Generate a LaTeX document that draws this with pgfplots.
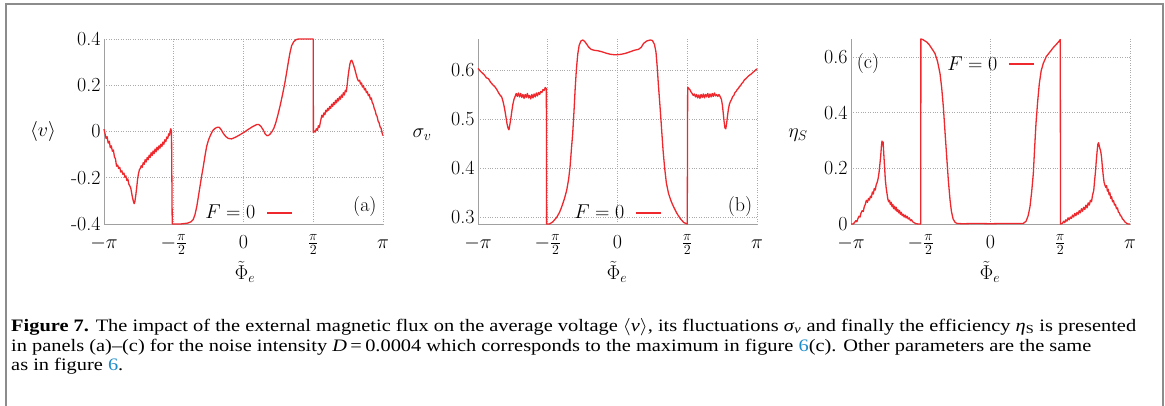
\RequirePackage{fix-cm}
\documentclass[border=0pt]{standalone}
\usepackage{fontspec}
\usepackage{pgfplots}
\pgfplotsset{compat=1.18}
\newfontfamily\capfont{Liberation Serif}
\definecolor{cred}{RGB}{238,40,45}
\definecolor{axgray}{RGB}{160,160,160}
\definecolor{gridgray}{RGB}{170,170,170}
\definecolor{boxgray}{RGB}{140,140,140}
\definecolor{linkblue}{RGB}{30,140,200}
\newlength\capw
\newcommand\capsize{\capfont\fontsize{17.5}{21}\selectfont}
\newcommand\capA{\textbf{Figure 7.} The impact of the external magnetic flux on the average voltage $\langle$\textit{v}$\rangle$, its fluctuations \textit{σ}\textsubscript{\textit{v}} and finally the efficiency \textit{η}\textsubscript{S} is presented}
\newcommand\capB{in panels (a)–(c) for the noise intensity \textit{D}\,=\,0.0004 which corresponds to the maximum in figure \textcolor{linkblue}{6}(c). Other parameters are the same}
\newcommand\capC{as in figure \textcolor{linkblue}{6}.}
\newcommand\lbl{\fontsize{20}{24}\selectfont}

\pgfplotsset{
 redline/.style={cred, line width=1.3pt, mark=none, line join=round},
 panel/.style={
  scale only axis, width=279pt, height=185pt,
  xmin=-1, xmax=1,
  axis x line*=bottom, axis y line*=left,
  axis line style={axgray, line width=1pt},
  xtick={-1,-0.5,0,0.5,1},
  xticklabels={$-\pi$,$-\frac{\pi}{2}$,$0$,$\frac{\pi}{2}$,$\pi$},
  major tick length=0pt,
  grid=major, grid style={gridgray, dotted, line width=0.8pt},
  tick label style={font=\lbl},
  xticklabel style={anchor=base, inner sep=0pt, yshift=-24pt},
  legend style={draw=none, fill=none, font=\lbl, inner sep=1pt, column sep=9pt},
  legend plot pos=right,
  legend image code/.code={\draw[##1] (0pt,0pt) -- (25pt,0pt);},
  clip=false,
}}

\begin{document}
\settowidth\capw{\capsize\capA}%
\pgfmathsetmacro\sx{1125/\capw}%
\begin{tikzpicture}
\fill[white] (0,0) rectangle (1165pt,405pt);
\useasboundingbox (0,0) rectangle (1165pt,405pt);
\draw[boxgray, line width=2pt] (6pt,-5pt) -- (6pt,401pt) -- (1163pt,401pt) -- (1163pt,-5pt);

% ---------------- panel (a)
\begin{axis}[panel, at={(104pt,181pt)}, anchor=south west,
  ymin=-0.4, ymax=0.4, ytick={-0.4,-0.2,0,0.2,0.4},
  yticklabels={-0.4,-0.2,0,0.2,0.4},
  legend style={at={(0.516,0.06)}, anchor=center}]
\addplot[redline] coordinates {
(-1.000,0.010) (-0.992,-0.012) (-0.985,-0.030) (-0.978,-0.022) (-0.970,-0.050) (-0.962,-0.042)
(-0.955,-0.070) (-0.948,-0.062) (-0.940,-0.085) (-0.933,-0.080) (-0.925,-0.110) (-0.918,-0.118)
(-0.910,-0.150) (-0.902,-0.145) (-0.895,-0.160) (-0.887,-0.155) (-0.880,-0.175) (-0.872,-0.170)
(-0.865,-0.185) (-0.857,-0.180) (-0.850,-0.198) (-0.843,-0.192) (-0.836,-0.212) (-0.829,-0.205)
(-0.822,-0.228) (-0.815,-0.235) (-0.808,-0.245) (-0.802,-0.265) (-0.796,-0.285) (-0.790,-0.300)
(-0.784,-0.312) (-0.779,-0.305) (-0.772,-0.275) (-0.766,-0.245) (-0.759,-0.205) (-0.752,-0.180)
(-0.746,-0.165) (-0.740,-0.160) (-0.733,-0.148) (-0.726,-0.155) (-0.719,-0.135) (-0.712,-0.142)
(-0.705,-0.122) (-0.698,-0.132) (-0.690,-0.112) (-0.683,-0.122) (-0.676,-0.102) (-0.669,-0.112)
(-0.662,-0.092) (-0.655,-0.104) (-0.648,-0.084) (-0.641,-0.096) (-0.634,-0.076) (-0.627,-0.088)
(-0.620,-0.068) (-0.613,-0.080) (-0.606,-0.062) (-0.599,-0.072) (-0.592,-0.055) (-0.585,-0.065)
(-0.578,-0.046) (-0.571,-0.055) (-0.564,-0.036) (-0.557,-0.044) (-0.550,-0.024) (-0.543,-0.030)
(-0.536,-0.010) (-0.530,-0.016) (-0.525,0.004) (-0.521,0.012) (-0.516,0.000) (-0.511,-0.400)
(-0.450,-0.400) (-0.399,-0.396) (-0.375,-0.390) (-0.360,-0.380) (-0.348,-0.360) (-0.335,-0.325)
(-0.323,-0.280) (-0.312,-0.238) (-0.300,-0.192) (-0.288,-0.151) (-0.276,-0.105) (-0.264,-0.064)
(-0.250,-0.035) (-0.236,-0.015) (-0.220,0.004) (-0.205,0.013) (-0.190,0.018) (-0.173,0.018)
(-0.158,0.006) (-0.145,-0.008) (-0.127,-0.022) (-0.109,-0.030) (-0.085,-0.032) (-0.055,-0.024)
(-0.025,-0.014) (0.005,-0.003) (0.034,0.009) (0.065,0.021) (0.095,0.030) (0.110,0.030)
(0.125,0.022) (0.142,0.006) (0.155,-0.010) (0.168,-0.018) (0.180,-0.017) (0.192,-0.010)
(0.205,0.000) (0.218,0.015) (0.230,0.035) (0.245,0.068) (0.262,0.110) (0.280,0.160)
(0.297,0.212) (0.310,0.258) (0.321,0.299) (0.333,0.340) (0.345,0.371) (0.360,0.388)
(0.376,0.397) (0.395,0.400) (0.450,0.400) (0.500,0.400) (0.501,-0.005) (0.508,0.002)
(0.515,-0.002) (0.522,0.012) (0.530,0.005) (0.537,0.025) (0.544,0.018) (0.551,0.040)
(0.556,0.055) (0.562,0.070) (0.569,0.062) (0.576,0.080) (0.583,0.072) (0.590,0.092)
(0.597,0.085) (0.604,0.100) (0.611,0.092) (0.618,0.108) (0.625,0.100) (0.632,0.118)
(0.639,0.108) (0.646,0.125) (0.653,0.116) (0.660,0.135) (0.667,0.124) (0.674,0.142)
(0.681,0.132) (0.688,0.150) (0.695,0.140) (0.702,0.158) (0.709,0.148) (0.716,0.168)
(0.723,0.158) (0.730,0.178) (0.737,0.172) (0.743,0.200) (0.749,0.235) (0.755,0.262)
(0.762,0.290) (0.769,0.305) (0.776,0.308) (0.783,0.298) (0.790,0.285) (0.797,0.272)
(0.804,0.255) (0.811,0.240) (0.818,0.225) (0.825,0.218) (0.832,0.222) (0.839,0.205)
(0.846,0.210) (0.853,0.192) (0.860,0.198) (0.867,0.180) (0.874,0.186) (0.881,0.168)
(0.888,0.172) (0.895,0.155) (0.902,0.160) (0.909,0.140) (0.916,0.145) (0.923,0.125)
(0.930,0.118) (0.937,0.100) (0.944,0.090) (0.951,0.072) (0.958,0.065) (0.965,0.045)
(0.972,0.038) (0.979,0.020) (0.986,0.015) (0.993,-0.005) (1.000,-0.018)
};
\addlegendentry{$F=0$}
\node[font=\lbl] at (rel axis cs:0.935,0.092) {(a)};
\end{axis}

% ---------------- panel (b)
\begin{axis}[panel, at={(478pt,181pt)}, anchor=south west,
  ymin=0.286, ymax=0.663, ytick={0.3,0.4,0.5,0.6},
  yticklabels={0.3,0.4,0.5,0.6},
  legend style={at={(0.498,0.06)}, anchor=center}]
\addplot[redline] coordinates {
(-1.000,0.603) (-0.985,0.598) (-0.970,0.594) (-0.955,0.590) (-0.940,0.584) (-0.925,0.582)
(-0.910,0.575) (-0.895,0.570) (-0.880,0.566) (-0.865,0.560) (-0.850,0.552) (-0.840,0.548)
(-0.830,0.545) (-0.820,0.535) (-0.810,0.522) (-0.800,0.505) (-0.792,0.490) (-0.785,0.482)
(-0.778,0.478) (-0.772,0.488) (-0.765,0.500) (-0.758,0.515) (-0.750,0.530) (-0.742,0.540)
(-0.734,0.546) (-0.726,0.552) (-0.718,0.546) (-0.710,0.553) (-0.702,0.545) (-0.694,0.552)
(-0.686,0.544) (-0.678,0.550) (-0.670,0.542) (-0.662,0.550) (-0.654,0.544) (-0.646,0.552)
(-0.638,0.543) (-0.630,0.548) (-0.622,0.541) (-0.614,0.550) (-0.606,0.543) (-0.598,0.551)
(-0.590,0.545) (-0.582,0.553) (-0.574,0.547) (-0.566,0.554) (-0.558,0.550) (-0.550,0.556)
(-0.542,0.554) (-0.534,0.560) (-0.526,0.558) (-0.518,0.564) (-0.510,0.562) (-0.508,0.286)
(-0.488,0.286) (-0.465,0.290) (-0.435,0.300) (-0.415,0.310) (-0.400,0.321) (-0.380,0.338)
(-0.364,0.355) (-0.350,0.378) (-0.340,0.403) (-0.330,0.440) (-0.321,0.471) (-0.312,0.515)
(-0.304,0.559) (-0.295,0.600) (-0.285,0.632) (-0.275,0.650) (-0.262,0.659) (-0.249,0.661)
(-0.235,0.658) (-0.220,0.652) (-0.208,0.647) (-0.190,0.642) (-0.167,0.640) (-0.140,0.639)
(-0.112,0.637) (-0.080,0.634) (-0.053,0.632) (-0.025,0.631) (0.000,0.631) (0.030,0.632)
(0.060,0.634) (0.091,0.637) (0.120,0.640) (0.151,0.642) (0.170,0.646) (0.187,0.654)
(0.210,0.659) (0.235,0.661) (0.250,0.660) (0.265,0.652) (0.276,0.636) (0.285,0.605)
(0.293,0.570) (0.301,0.540) (0.310,0.505) (0.318,0.471) (0.327,0.435) (0.337,0.403)
(0.350,0.370) (0.366,0.348) (0.385,0.332) (0.402,0.321) (0.425,0.308) (0.450,0.297)
(0.475,0.289) (0.500,0.286) (0.503,0.565) (0.511,0.562) (0.519,0.560) (0.527,0.555)
(0.535,0.552) (0.543,0.548) (0.551,0.551) (0.559,0.545) (0.567,0.550) (0.575,0.543)
(0.583,0.549) (0.591,0.542) (0.599,0.550) (0.607,0.544) (0.615,0.551) (0.623,0.543)
(0.631,0.550) (0.639,0.545) (0.647,0.552) (0.655,0.544) (0.663,0.551) (0.671,0.545)
(0.679,0.552) (0.687,0.546) (0.695,0.553) (0.703,0.547) (0.711,0.550) (0.719,0.546)
(0.727,0.550) (0.735,0.546) (0.745,0.540) (0.752,0.528) (0.758,0.512) (0.764,0.495)
(0.770,0.482) (0.776,0.480) (0.782,0.490) (0.788,0.505) (0.795,0.520) (0.802,0.530)
(0.810,0.536) (0.818,0.540) (0.826,0.546) (0.834,0.548) (0.842,0.554) (0.850,0.556)
(0.858,0.560) (0.866,0.562) (0.874,0.566) (0.882,0.568) (0.890,0.572) (0.900,0.575)
(0.910,0.580) (0.920,0.582) (0.930,0.585) (0.940,0.588) (0.950,0.590) (0.960,0.592)
(0.970,0.595) (0.980,0.597) (0.990,0.600) (1.000,0.602)
};
\addlegendentry{$F=0$}
\node[font=\lbl] at (rel axis cs:0.939,0.092) {(b)};
\end{axis}

% ---------------- panel (c)
\begin{axis}[panel, at={(851pt,181pt)}, anchor=south west,
  ymin=0, ymax=0.665, ytick={0,0.2,0.4,0.6},
  yticklabels={0,0.2,0.4,0.6},
  legend style={at={(0.498,0.865)}, anchor=center}]
\addplot[redline] coordinates {
(-1.000,0.000) (-0.985,0.000) (-0.975,0.005) (-0.965,0.012) (-0.958,0.008) (-0.950,0.020)
(-0.942,0.028) (-0.935,0.025) (-0.928,0.040) (-0.920,0.048) (-0.912,0.045) (-0.905,0.062)
(-0.898,0.070) (-0.890,0.085) (-0.882,0.078) (-0.875,0.092) (-0.868,0.086) (-0.861,0.100)
(-0.854,0.095) (-0.847,0.115) (-0.840,0.108) (-0.833,0.128) (-0.826,0.122) (-0.819,0.142)
(-0.812,0.150) (-0.805,0.165) (-0.799,0.185) (-0.793,0.215) (-0.787,0.245) (-0.782,0.280)
(-0.778,0.298) (-0.774,0.285) (-0.770,0.295) (-0.766,0.260) (-0.760,0.210) (-0.754,0.160)
(-0.748,0.130) (-0.742,0.110) (-0.736,0.090) (-0.730,0.080) (-0.724,0.085) (-0.718,0.070)
(-0.712,0.078) (-0.706,0.062) (-0.700,0.070) (-0.694,0.055) (-0.688,0.064) (-0.682,0.050)
(-0.676,0.060) (-0.670,0.045) (-0.664,0.052) (-0.658,0.040) (-0.652,0.048) (-0.646,0.035)
(-0.640,0.042) (-0.633,0.030) (-0.626,0.035) (-0.619,0.025) (-0.612,0.032) (-0.605,0.022)
(-0.598,0.028) (-0.590,0.018) (-0.582,0.022) (-0.574,0.012) (-0.566,0.015) (-0.558,0.008)
(-0.548,0.005) (-0.535,0.001) (-0.515,0.000) (-0.500,0.000) (-0.499,0.665) (-0.485,0.663)
(-0.470,0.658) (-0.457,0.654) (-0.440,0.645) (-0.420,0.630) (-0.398,0.613) (-0.380,0.585)
(-0.362,0.541) (-0.350,0.490) (-0.338,0.421) (-0.326,0.330) (-0.314,0.242) (-0.302,0.155)
(-0.290,0.086) (-0.280,0.045) (-0.268,0.018) (-0.254,0.006) (-0.240,0.002) (-0.200,0.001)
(-0.100,0.002) (0.000,0.001) (0.100,0.002) (0.200,0.002) (0.235,0.002) (0.255,0.010)
(0.270,0.030) (0.283,0.062) (0.295,0.115) (0.307,0.182) (0.316,0.270) (0.326,0.361)
(0.338,0.440) (0.350,0.505) (0.363,0.550) (0.378,0.577) (0.400,0.602) (0.427,0.619)
(0.450,0.634) (0.474,0.647) (0.490,0.656) (0.500,0.663) (0.502,0.000) (0.515,0.002)
(0.525,0.010) (0.532,0.005) (0.540,0.015) (0.548,0.010) (0.556,0.022) (0.564,0.015)
(0.572,0.025) (0.580,0.020) (0.588,0.032) (0.596,0.025) (0.604,0.038) (0.612,0.030)
(0.620,0.042) (0.628,0.035) (0.636,0.048) (0.644,0.040) (0.652,0.055) (0.660,0.046)
(0.668,0.060) (0.676,0.052) (0.684,0.068) (0.692,0.058) (0.700,0.076) (0.708,0.068)
(0.716,0.085) (0.724,0.080) (0.732,0.105) (0.740,0.120) (0.746,0.155) (0.752,0.185)
(0.758,0.225) (0.764,0.260) (0.770,0.288) (0.775,0.292) (0.780,0.280) (0.785,0.270)
(0.790,0.262) (0.796,0.240) (0.802,0.205) (0.808,0.175) (0.814,0.150) (0.820,0.140)
(0.826,0.132) (0.832,0.138) (0.838,0.118) (0.844,0.125) (0.850,0.105) (0.856,0.112)
(0.862,0.092) (0.868,0.098) (0.875,0.080) (0.882,0.084) (0.889,0.068) (0.896,0.070)
(0.903,0.055) (0.910,0.058) (0.917,0.042) (0.924,0.040) (0.931,0.030) (0.938,0.028)
(0.946,0.018) (0.954,0.015) (0.962,0.008) (0.970,0.005) (0.980,0.001) (0.990,0.000)
(1.000,0.000)
};
\addlegendentry{$F=0$}
\node[font=\lbl] at (rel axis cs:0.061,0.865) {(c)};
\end{axis}

% axis labels
\node[font=\lbl] at (43pt,273pt) {$\langle v\rangle$};
\node[font=\lbl] at (422pt,270pt) {$\sigma_v$};
\node[font=\lbl] at (798pt,270pt) {$\eta_S$};
\node[font=\lbl, inner sep=1pt] at (245pt,133pt) {$\tilde{\Phi}_e$};
\node[font=\lbl, inner sep=1pt] at (617pt,133pt) {$\tilde{\Phi}_e$};
\node[font=\lbl, inner sep=1pt] at (990pt,133pt) {$\tilde{\Phi}_e$};

% caption
\node[anchor=base west, inner sep=0pt] at (11pt,74pt) {\scalebox{\sx}[1]{\capsize\capA}};
\node[anchor=base west, inner sep=0pt] at (11pt,54pt) {\scalebox{\sx}[1]{\capsize\capB}};
\node[anchor=base west, inner sep=0pt] at (11pt,35pt) {\scalebox{\sx}[1]{\capsize\capC}};
\end{tikzpicture}
\end{document}
